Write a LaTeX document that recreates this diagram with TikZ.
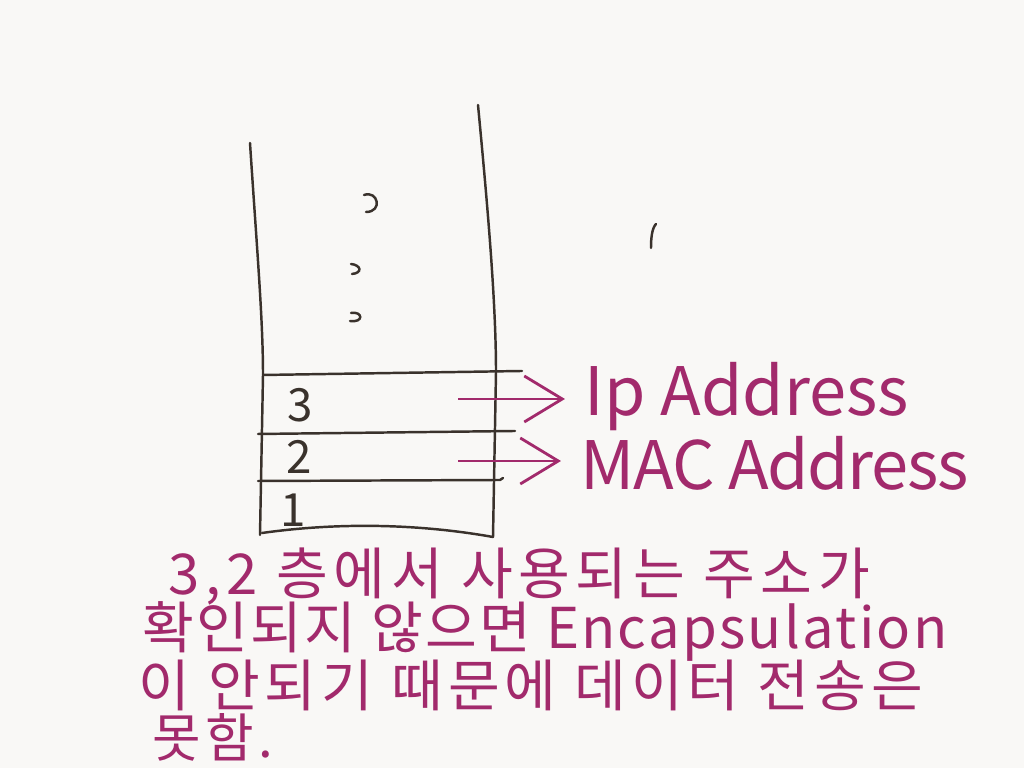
\documentclass[tikz,border=0pt]{standalone}
\usepackage{fontspec}
\setmainfont{Noto Sans CJK KR}
\usetikzlibrary{arrows.meta}
\definecolor{pen}{RGB}{162,42,108}
\definecolor{ink}{RGB}{58,50,44}
\definecolor{paper}{RGB}{249,248,246}
\begin{document}
\begin{tikzpicture}[x=0.01cm,y=-0.01cm]
        \tikzstyle{stack}=[draw=ink,line width=0.7pt,line cap=round]
        \tikzstyle{layer}=[text=ink,inner sep=0pt,font=\fontsize{13}{13}\selectfont]
        \tikzstyle{addr}=[text=pen,anchor=west,inner sep=0pt,font=\fontsize{19}{19}\selectfont]
        \tikzstyle{note}=[text=pen,anchor=west,inner sep=0pt,font=\fontsize{16}{18}\selectfont]
        \tikzstyle{edge}=[draw=pen,line width=0.8pt,shorten >=0.19cm,-{Straight Barb[length=0.38cm,width=0.46cm,line width=0.8pt]}]
       \fill[paper] (0,0) rectangle (1024,768);
       \useasboundingbox (0,0) rectangle (1024,768);
       \begin{scope}
         % the stack of layers
         \draw[stack] (250,143) .. controls (257,250) and (263,320) .. (263,375) -- (260,535);
         \draw[stack] (478,105) .. controls (487,200) and (496,300) .. (496,372) -- (493,537);
         \draw[stack] (262,533) .. controls (340,522) and (420,524) .. (493,537);
         \draw[stack] (263,375) -- (522,371);
         \draw[stack] (258,434) -- (515,431);
         \draw[stack] (258,481) -- (500,480) -- (503,478);
         % ellipsis marks
         \draw[stack] (364,195) .. controls (378,190) and (383,212) .. (366,212);
         \draw[stack] (351,264) .. controls (361,265) and (363,273) .. (352,274);
         \draw[stack] (351,313) .. controls (363,311) and (364,323) .. (350,321);
         \draw[stack] (656,224) .. controls (652,228) and (651,238) .. (651,248);
         \node [layer] (l3) at (300,405) {3};
         \node [layer] (l2) at (299,457) {2};
         \node [layer] (l1) at (293,510) {1};
         \node [addr] (ip) at (584,397) {Ip Address};
         \node [addr] (mac) at (580,463) {\addfontfeature{LetterSpace=-2}MAC Address};
         \coordinate (a3) at (458,399);
         \coordinate (a2) at (458,461);
         \draw[edge] (a3) -- (a3 -| ip.west);
         \draw[edge] (a2) -- (a2 -| mac.west);
         % note below the stack
         \node [note] (n1) at (168,577) {\addfontfeature{LetterSpace=10}3,2 층에서 사용되는 주소가};
         \node [note] (n2) at (142,631) {\addfontfeature{LetterSpace=4}확인되지 않으면 Encapsulation};
         \node [note] (n3) at (138,685) {\addfontfeature{LetterSpace=9}이 안되기 때문에 데이터 전송은};
         \node [note,font=\fontsize{15}{17}\selectfont] (n4) at (152,737) {\addfontfeature{LetterSpace=8}못함.};
        \end{scope}
      \end{tikzpicture}
\end{document}
